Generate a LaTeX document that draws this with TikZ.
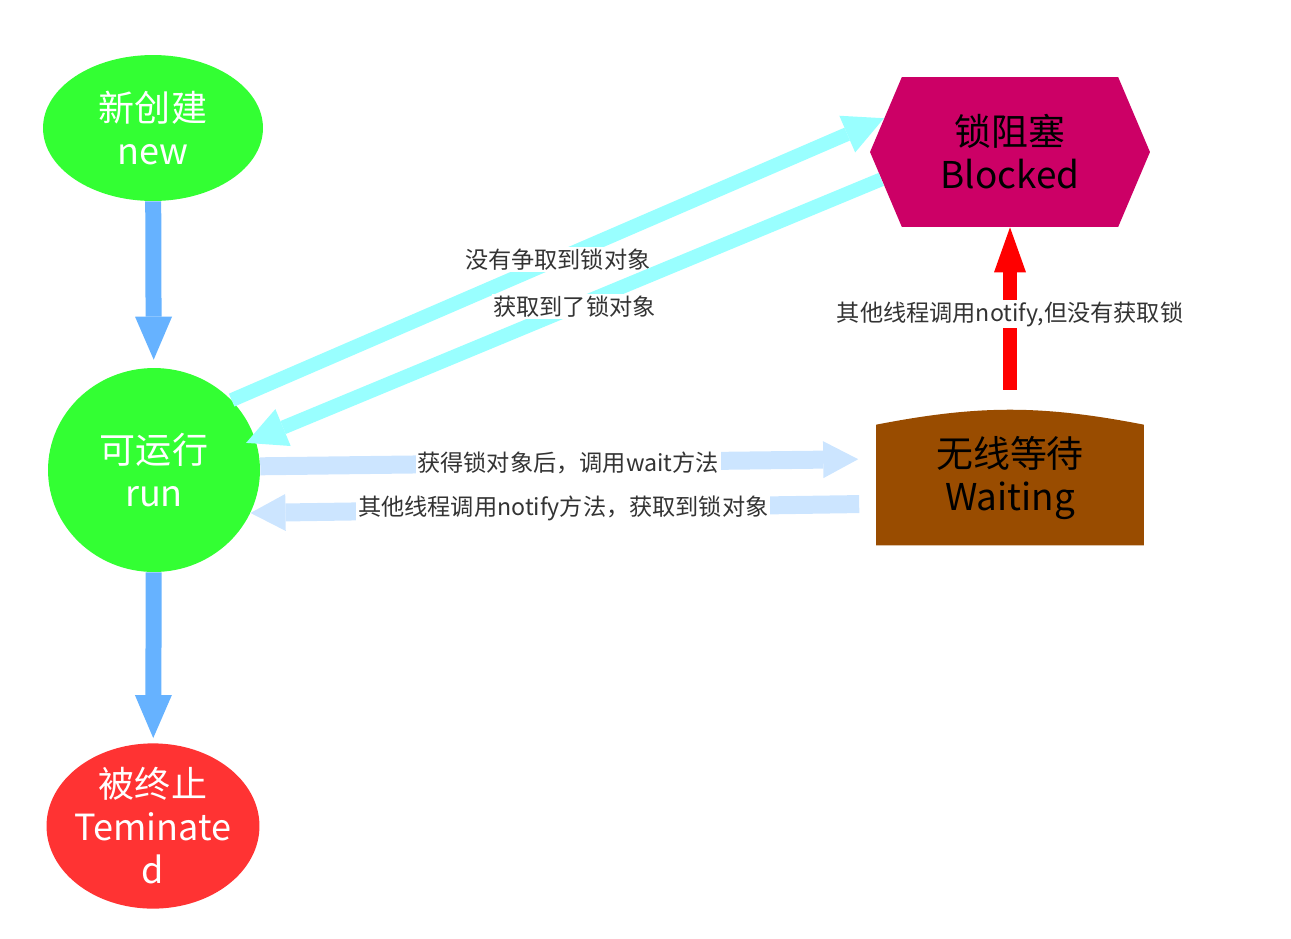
\documentclass[tikz,border=0pt]{standalone}
\usepackage{fontspec}
\setmainfont{Noto Sans CJK SC}
\usetikzlibrary{arrows.meta,shapes.geometric,shapes.symbols,backgrounds}
\definecolor{grn}{HTML}{33FF33}
\definecolor{trm}{HTML}{FF3333}
\definecolor{blk}{HTML}{CC0066}
\definecolor{brn}{HTML}{994C00}
\definecolor{blu}{HTML}{66B2FF}
\definecolor{cyn}{HTML}{99FFFF}
\definecolor{lblu}{HTML}{CCE5FF}
\definecolor{txt}{HTML}{333333}
\tikzset{
  st/.style={ellipse, fill=grn, text=white, align=center, inner sep=0pt, font=\fontsize{20.5}{24.5}\selectfont},
  fat/.style={line width=0.32cm, -{Triangle[length=0.86cm,width=0.74cm,line width=0pt]}},
  lbl/.style={fill=white, text=txt, inner sep=1pt, font=\fontsize{13.2}{15}\selectfont}
}
\begin{document}
\begin{tikzpicture}[x=0.02cm, y=-0.02cm]
\useasboundingbox (0,0) rectangle (1291,938);
\node[st, minimum width=4.4cm, minimum height=2.92cm] (new) at (153,128) {新创建\\new};
\node[st, minimum width=4.24cm, minimum height=4.08cm] (run) at (154,470) {可运行\\run};
\node[st, fill=trm, inner xsep=-0.14cm, minimum width=4.26cm, minimum height=3.26cm] (term) at (153,826) {被终止\\Teminate\\d};
\node[signal, signal to=east and west, signal pointer angle=134, fill=blk, text=black,
  minimum width=5.6cm, minimum height=3cm, inner sep=0pt, align=center,
  font=\fontsize{21}{24.5}\selectfont] (blocked) at (1010,152) {锁阻塞\\Blocked};
\node[minimum width=5.34cm, minimum height=2.4cm, inner sep=0pt, text depth=0.48cm, align=center,
  font=\fontsize{21}{24.5}\selectfont] (waiting) at (1010,485) {无线等待\\Waiting};
\begin{scope}[on background layer]
\fill[brn] (waiting.north west) to[bend left=11] (waiting.north east) -- (waiting.south east) -- (waiting.south west) -- cycle;
\end{scope}

\draw[fat, blu, shorten >=0.16cm] (new) -- (run);
\draw[fat, blu, shorten >=0.1cm] (run) -- (term);
\draw[fat, cyn, line width=0.28cm, -{Triangle[length=0.8cm,width=0.8cm,line width=0pt]}] (run.42) -- (blocked.165) node[lbl, pos=0.5] {没有争取到锁对象};
\draw[fat, cyn, line width=0.28cm, -{Triangle[length=0.8cm,width=0.8cm,line width=0pt]}, shorten >=-0.2cm] (blocked.192) -- (run.17) node[lbl, pos=0.49] {获取到了锁对象};
\draw[fat, lblu, line width=0.36cm, -{Triangle[length=0.7cm,width=0.74cm,line width=0pt]}, shorten >=0.36cm] (run.2) -- (waiting.169) node[lbl, pos=0.5] {获得锁对象后，调用wait方法};
\draw[fat, lblu, line width=0.36cm, -{Triangle[length=0.7cm,width=0.74cm,line width=0pt]}, shorten <=0.34cm] (waiting.188.5) -- (run.-24) node[lbl, pos=0.5] {其他线程调用notify方法，获取到锁对象};
\draw[fat, red, line width=0.28cm, -{Triangle[length=0.9cm,width=0.64cm,line width=0pt]}, shorten <=0.7cm] (waiting.north) -- (blocked.south) node[lbl, pos=0.56] {其他线程调用notify,但没有获取锁};
\end{tikzpicture}
\end{document}
